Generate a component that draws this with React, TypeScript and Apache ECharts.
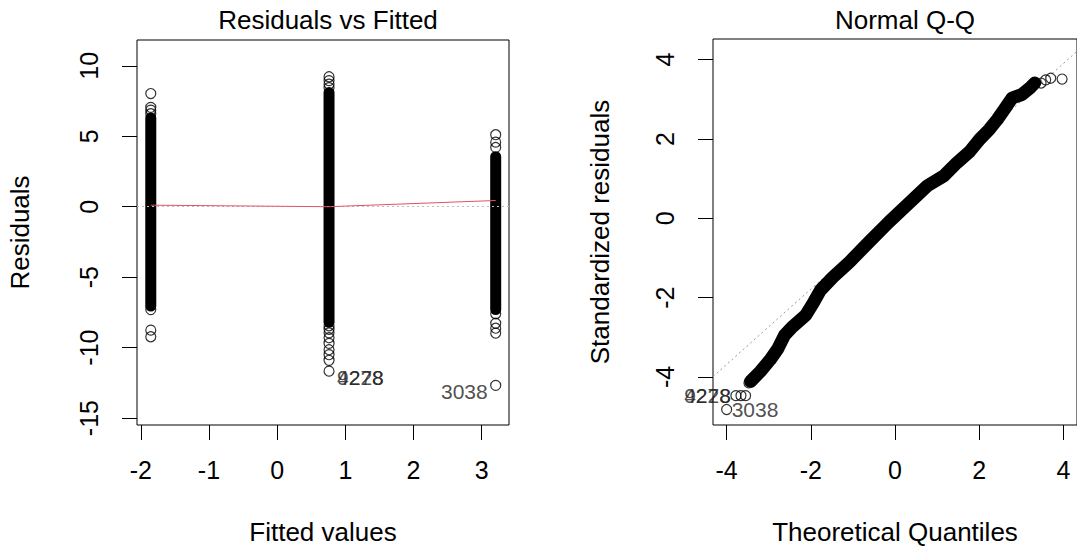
import React, { useEffect, useRef } from "react";
import * as echarts from "echarts";

// ---------- Residuals vs Fitted ----------
const fittedLevels = [-1.853, 0.761, 3.205];
const bandLow = [-7.05, -8.2, -7.3];
const bandHigh = [6.3, 8.1, 3.55];
const outliersA = [8.03, 7.05, 6.85, 6.6, -7.3, -8.76, -9.23];
const outliersB = [9.22, 8.95, 8.7, 8.45, -8.45, -8.7, -8.95, -9.3, -9.7, -10.15, -10.5, -10.9, -11.67];
const outliersC = [5.11, 4.58, 4.2, -7.6, -8.27, -8.62, -8.97, -12.68];
const lowessX = [-1.853, 0.761, 3.205];
const lowessY = [0.11, 0.0, 0.44];
const rvfLabelIds = ["3038", "4278", "9228"];
const rvfLabelX = [3.205, 0.761, 0.761];
const rvfLabelY = [-12.68, -11.67, -11.67];
const rvfLabelSide = ["left", "right", "right"];
const rvfXTicks = [-2, -1, 0, 1, 2, 3];
const rvfYTicks = [-15, -10, -5, 0, 5, 10];

// ---------- Normal Q-Q ----------
const qqBandX = [-3.43, -3.2, -2.97, -2.78, -2.62, -2.43, -2.12, -1.93, -1.77, -1.47, -1.08, -0.62, -0.15, 0.31, 0.77, 1.16, 1.47, 1.78, 2.01, 2.24, 2.43, 2.62, 2.78, 3.01, 3.2, 3.32];
const qqBandY = [-4.11, -3.86, -3.57, -3.28, -2.94, -2.73, -2.44, -2.11, -1.81, -1.48, -1.1, -0.6, -0.1, 0.36, 0.82, 1.07, 1.4, 1.69, 1.99, 2.24, 2.49, 2.78, 3.03, 3.12, 3.28, 3.41];
const qqPointX = [-4.0, -3.78, -3.66, -3.55, -3.47, 3.47, 3.58, 3.7, 3.97];
const qqPointY = [-4.82, -4.47, -4.47, -4.47, -4.15, 3.41, 3.49, 3.53, 3.51];
const qqLabelIds = ["3038", "4278", "9228"];
const qqLabelX = [-4.0, -3.78, -3.78];
const qqLabelY = [-4.82, -4.47, -4.47];
const qqLabelSide = ["right", "left", "left"];
const qqLineIntercept = 0.11;
const qqLineSlope = 0.948;
const qqXTicks = [-4, -2, 0, 2, 4];
const qqYTicks = [-4, -2, 0, 2, 4];

const FONT = "'Liberation Sans', Arial, sans-serif";

const rvfX = { min: -2.055, max: 3.4 };
const rvfY = { min: -15.49, max: 11.83 };
const qqX = { min: -4.324, max: 4.324 };
const qqY = { min: -5.21, max: 4.52 };

function axisCommon(ticks: number[], margin: number, rotate: number) {
  return {
    axisLine: { show: false, onZero: false },
    splitLine: { show: false },
    axisTick: {
      show: true,
      length: 15,
      inside: false,
      customValues: ticks,
      lineStyle: { color: "#000", width: 1 },
    },
    axisLabel: {
      show: true,
      customValues: ticks,
      margin,
      rotate,
      fontSize: 25,
      color: "#000",
      fontFamily: FONT,
    },
    nameTextStyle: { fontSize: 26, color: "#000", fontFamily: FONT },
  };
}

const circleStyle = {
  color: "rgba(0,0,0,0)",
  borderColor: "#000",
  borderWidth: 1.2,
};

export default function App() {
  const ref = useRef<HTMLDivElement>(null);
  useEffect(() => {
    if (!ref.current) return;
    const chart = echarts.init(ref.current, undefined, { renderer: "svg" });

    const bandData = fittedLevels.map((f, i) => [f, bandLow[i], bandHigh[i]]);
    const rvfOutliers: number[][] = [];
    outliersA.forEach((v) => rvfOutliers.push([fittedLevels[0], v]));
    outliersB.forEach((v) => rvfOutliers.push([fittedLevels[1], v]));
    outliersC.forEach((v) => rvfOutliers.push([fittedLevels[2], v]));

    const bandRender = (params: any, api: any) => {
      const x = api.value(0);
      const top = api.coord([x, api.value(2)]);
      const bot = api.coord([x, api.value(1)]);
      const w = 11;
      return {
        type: "rect",
        shape: { x: top[0] - w / 2, y: top[1] - w / 2, width: w, height: bot[1] - top[1] + w, r: w / 2 },
        style: { fill: "#000" },
      };
    };

    const option: any = {
      animation: false,
      backgroundColor: "#fff",
      title: [
        {
          text: "Residuals vs Fitted",
          left: 323,
          top: 2,
          textAlign: "center",
          textStyle: { fontSize: 26, fontWeight: "normal", color: "#000", fontFamily: FONT },
        },
        {
          text: "Normal Q-Q",
          left: 900,
          top: 2,
          textAlign: "center",
          textStyle: { fontSize: 26, fontWeight: "normal", color: "#000", fontFamily: FONT },
        },
      ],
      grid: [
        { left: 137, top: 40, width: 372, height: 388, show: true, borderColor: "#000", borderWidth: 1, backgroundColor: "transparent" },
        { left: 713, top: 39, width: 373, height: 389, show: true, borderColor: "#000", borderWidth: 1, backgroundColor: "transparent" },
      ],
      xAxis: [
        {
          type: "value",
          gridIndex: 0,
          min: rvfX.min,
          max: rvfX.max,
          name: "Fitted values",
          nameLocation: "middle",
          nameGap: 94,
          ...axisCommon(rvfXTicks, 32, 0),
        },
        {
          type: "value",
          gridIndex: 1,
          min: qqX.min,
          max: qqX.max,
          name: "Theoretical Quantiles",
          nameLocation: "middle",
          nameGap: 94,
          ...axisCommon(qqXTicks, 32, 0),
        },
      ],
      yAxis: [
        {
          type: "value",
          gridIndex: 0,
          min: rvfY.min,
          max: rvfY.max,
          name: "Residuals",
          nameLocation: "middle",
          nameGap: 104,
          ...axisCommon(rvfYTicks, 36, 90),
        },
        {
          type: "value",
          gridIndex: 1,
          min: qqY.min,
          max: qqY.max,
          name: "Standardized residuals",
          nameLocation: "middle",
          nameGap: 100,
          ...axisCommon(qqYTicks, 36, 90),
        },
      ],
      series: [
        {
          type: "custom",
          xAxisIndex: 0,
          yAxisIndex: 0,
          renderItem: bandRender,
          data: bandData,
          silent: true,
          z: 2,
        },
        {
          type: "scatter",
          xAxisIndex: 0,
          yAxisIndex: 0,
          symbol: "circle",
          symbolSize: 10,
          itemStyle: circleStyle,
          data: rvfOutliers,
          z: 3,
        },
        {
          type: "line",
          xAxisIndex: 0,
          yAxisIndex: 0,
          data: [],
          markLine: {
            silent: true,
            symbol: ["none", "none"],
            label: { show: false },
            lineStyle: { color: "#bebebe", type: [2, 3], width: 1 },
            data: [{ yAxis: 0 }],
          },
          z: 4,
        },
        {
          type: "line",
          xAxisIndex: 0,
          yAxisIndex: 0,
          showSymbol: false,
          symbol: "none",
          lineStyle: { color: "#DF536B", width: 1 },
          data: lowessX.map((x, i) => [x, lowessY[i]]),
          z: 5,
        },
        {
          type: "scatter",
          xAxisIndex: 0,
          yAxisIndex: 0,
          symbolSize: 0,
          data: rvfLabelIds.map((id, i) => ({
            name: id,
            value: [rvfLabelX[i], rvfLabelY[i]],
            label: {
              position: rvfLabelSide[i],
              offset: [0, 6],
            },
          })),
          label: {
            show: true,
            formatter: "{b}",
            fontSize: 21,
            color: "#222",
            fontFamily: FONT,
            distance: 8,
          },
          z: 6,
        },
        // Q-Q
        {
          type: "line",
          xAxisIndex: 1,
          yAxisIndex: 1,
          showSymbol: false,
          symbol: "none",
          lineStyle: { color: "#999", width: 1, type: [2, 3] },
          data: [
            [qqX.min, qqLineIntercept + qqLineSlope * qqX.min],
            [qqX.max, qqLineIntercept + qqLineSlope * qqX.max],
          ],
          z: 2,
        },
        {
          type: "line",
          xAxisIndex: 1,
          yAxisIndex: 1,
          showSymbol: false,
          symbol: "none",
          lineStyle: { color: "#000", width: 13, cap: "round", join: "round" },
          data: qqBandX.map((x, i) => [x, qqBandY[i]]),
          z: 3,
        },
        {
          type: "scatter",
          xAxisIndex: 1,
          yAxisIndex: 1,
          symbol: "circle",
          symbolSize: 10,
          itemStyle: circleStyle,
          data: qqPointX.map((x, i) => [x, qqPointY[i]]),
          z: 4,
        },
        {
          type: "scatter",
          xAxisIndex: 1,
          yAxisIndex: 1,
          symbolSize: 0,
          data: qqLabelIds.map((id, i) => ({
            name: id,
            value: [qqLabelX[i], qqLabelY[i]],
            label: { position: qqLabelSide[i] },
          })),
          label: {
            show: true,
            formatter: "{b}",
            fontSize: 21,
            color: "#222",
            fontFamily: FONT,
            distance: 5,
          },
          z: 6,
        },
      ],
    };
    chart.setOption(option);
    return () => chart.dispose();
  }, []);
  return <div ref={ref} style={{ width: 1077, height: 550, position: "absolute", left: 0, top: 0 }} />;
}
